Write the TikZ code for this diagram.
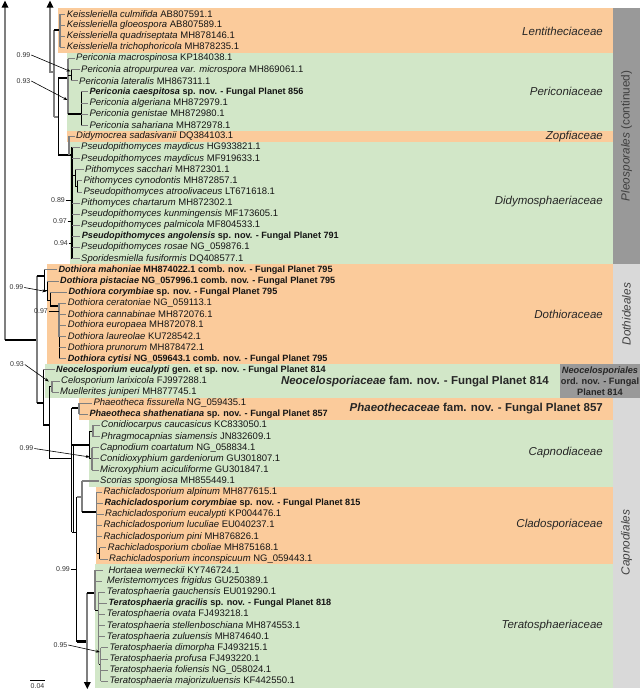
\documentclass[tikz,border=0pt]{standalone}
\usepackage{fontspec}
\setmainfont{Liberation Sans}
\usetikzlibrary{arrows.meta}
\definecolor{orf}{HTML}{FBCB9B}
\definecolor{grf}{HTML}{D2E7C8}
\definecolor{dgr}{HTML}{999999}
\definecolor{lgr}{HTML}{D9D9D9}
\definecolor{brg}{HTML}{7F7F7F}
\begin{document}
\begin{tikzpicture}[x=1pt,y=-1pt,
 tip/.style={anchor=west,inner sep=0pt,font=\fontsize{9.5}{11}\selectfont,text=black!92},
 btip/.style={anchor=west,inner sep=0pt,font=\fontsize{9.1}{11}\selectfont\bfseries,text=black!92},
 fam/.style={anchor=east,inner sep=0pt,font=\fontsize{11.5}{13}\selectfont\itshape,text=black!85},
 bfam/.style={anchor=east,inner sep=0pt,font=\fontsize{11.5}{13}\selectfont\bfseries,text=black!85},
 side/.style={rotate=90,inner sep=0pt,font=\fontsize{11.8}{13}\selectfont,text=black!75},
 supp/.style={anchor=east,inner sep=0pt,font=\fontsize{7}{8}\selectfont,text=black!80},
 bb/.style={draw=black,line width=1pt},
 tb/.style={draw=black,line width=2.6pt},
 gb/.style={draw=brg,line width=1.8pt},
 gl/.style={draw=brg,line width=1.2pt},
 tk/.style={draw=brg,line width=0.8pt},
 lead/.style={draw=black,line width=0.6pt,-{Stealth[length=4pt,width=3pt]}},
 plead/.style={draw=black,line width=0.6pt}]
\useasboundingbox (0,0) rectangle (640,691);
% ---------- coloured panels ----------
\fill[orf] (58,7.5) rectangle (613,53);
\fill[grf] (67,53) rectangle (613,130.75);
\fill[orf] (67,130.75) rectangle (613,141.9);
\fill[grf] (69.5,141.9) rectangle (613,264.2);
\fill[orf] (47,264.2) rectangle (613,364.3);
\fill[grf] (45,364.3) rectangle (560,397.65);
\fill[orf] (79,397.65) rectangle (613,419.85);
\fill[grf] (89,419.85) rectangle (613,486.6);
\fill[orf] (96,486.6) rectangle (613,564.4);
\fill[grf] (95,564.4) rectangle (613,687.5);
\fill[dgr] (613,7.5) rectangle (640,264.2);
\fill[lgr] (613,264.2) rectangle (640,364.3);
\fill[dgr] (560,364.3) rectangle (640,397.65);
\fill[lgr] (613,397.65) rectangle (640,687.5);
% ---------- group labels ----------
\node[fam] (fLen) at (603,31) {Lentitheciaceae};
\node[fam] (fPer) at (603,91.7) {Periconiaceae};
\node[fam] (fZop) at (603,136.3) {Zopfiaceae};
\node[fam] (fDid) at (603,202) {Didymosphaeriaceae};
\node[fam] (fDot) at (603,314) {Dothioraceae};
\node[bfam] (fNeo) at (549,381.5) {\textit{Neocelosporiaceae} fam. nov. - Fungal Planet 814};
\node[bfam] (fPha) at (603,408.5) {\textit{Phaeothecaceae} fam. nov. - Fungal Planet 857};
\node[fam] (fCap) at (603,453) {Capnodiaceae};
\node[fam] (fCla) at (603,525) {Cladosporiaceae};
\node[fam] (fTer) at (603,626) {Teratosphaeriaceae};
\node[side] (oPle) at (626.5,135.8) {\textit{Pleosporales} (continued)};
\node[side] (oDot) at (626.5,314.2) {\textit{Dothideales}};
\node[side] (oCap) at (626.5,542.6) {\textit{Capnodiales}};
\node[align=center,inner sep=0pt,font=\fontsize{9.2}{11.2}\selectfont\bfseries,text=black!85] (oNeo) at (600,381.2) {\textit{Neocelosporiales}\\ord. nov. - Fungal\\Planet 814};
% ---------- tip labels ----------
\node[tip] (t1) at (66.7,14.0) {\textit{Keissleriella culmifida} AB807591.1};
\node[tip] (t2) at (66.7,25.1) {\textit{Keissleriella gloeospora} AB807589.1};
\node[tip] (t3) at (66.7,36.2) {\textit{Keissleriella quadriseptata} MH878146.1};
\node[tip] (t4) at (66.7,47.4) {\textit{Keissleriella trichophoricola} MH878235.1};
\node[tip] (t5) at (76,58.5) {\textit{Periconia macrospinosa} KP184038.1};
\node[tip] (t6) at (81,69.6) {\textit{Periconia atropurpurea var. microspora} MH869061.1};
\node[tip] (t7) at (79,80.7) {\textit{Periconia lateralis} MH867311.1};
\node[btip] (t8) at (89.3,91.8) {\textit{Periconia caespitosa} sp. nov. - Fungal Planet 856};
\node[tip] (t9) at (89.3,103.0) {\textit{Periconia algeriana} MH872979.1};
\node[tip] (t10) at (89.3,114.1) {\textit{Periconia genistae} MH872980.1};
\node[tip] (t11) at (89.3,125.2) {\textit{Periconia sahariana} MH872978.1};
\node[tip] (t12) at (76,136.3) {\textit{Didymocrea sadasivanii} DQ384103.1};
\node[tip] (t13) at (81,147.4) {\textit{Pseudopithomyces maydicus} HG933821.1};
\node[tip] (t14) at (81,158.6) {\textit{Pseudopithomyces maydicus} MF919633.1};
\node[tip] (t15) at (85,169.7) {\textit{Pithomyces sacchari} MH872301.1};
\node[tip] (t16) at (83.3,180.8) {\textit{Pithomyces cynodontis} MH872857.1};
\node[tip] (t17) at (83.3,191.9) {\textit{Pseudopithomyces atroolivaceus} LT671618.1};
\node[tip] (t18) at (81,203.0) {\textit{Pithomyces chartarum} MH872302.1};
\node[tip] (t19) at (81,214.2) {\textit{Pseudopithomyces kunmingensis} MF173605.1};
\node[tip] (t20) at (81,225.3) {\textit{Pseudopithomyces palmicola} MF804533.1};
\node[btip] (t21) at (81.7,236.4) {\textit{Pseudopithomyces angolensis} sp. nov. - Fungal Planet 791};
\node[tip] (t22) at (81,247.5) {\textit{Pseudopithomyces rosae} NG\_059876.1};
\node[tip] (t23) at (81,258.6) {\textit{Sporidesmiella fusiformis} DQ408577.1};
\node[btip] (t24) at (58.3,269.8) {\textit{Dothiora mahoniae} MH874022.1 comb. nov. - Fungal Planet 795};
\node[btip] (t25) at (60,280.9) {\textit{Dothiora pistaciae} NG\_057996.1 comb. nov. - Fungal Planet 795};
\node[btip] (t26) at (68.3,292.0) {\textit{Dothiora corymbiae} sp. nov. - Fungal Planet 795};
\node[tip] (t27) at (67.7,303.1) {\textit{Dothiora ceratoniae} NG\_059113.1};
\node[tip] (t28) at (67.7,314.2) {\textit{Dothiora cannabinae} MH872076.1};
\node[tip] (t29) at (67.7,325.4) {\textit{Dothiora europaea} MH872078.1};
\node[tip] (t30) at (67.7,336.5) {\textit{Dothiora laureolae} KU728542.1};
\node[tip] (t31) at (67.7,347.6) {\textit{Dothiora prunorum} MH878472.1};
\node[btip] (t32) at (67.7,358.7) {\textit{Dothiora cytisi} NG\_059643.1 comb. nov. - Fungal Planet 795};
\node[btip] (t33) at (56,369.8) {\textit{Neocelosporium eucalypti} gen. et sp. nov. - Fungal Planet 814};
\node[tip] (t34) at (61,381.0) {\textit{Celosporium larixicola} FJ997288.1};
\node[tip] (t35) at (60,392.1) {\textit{Muellerites juniperi} MH877745.1};
\node[tip] (t36) at (93.3,403.2) {\textit{Phaeotheca fissurella} NG\_059435.1};
\node[btip] (t37) at (89.3,414.3) {\textit{Phaeotheca shathenatiana} sp. nov. - Fungal Planet 857};
\node[tip] (t38) at (101,425.4) {\textit{Conidiocarpus caucasicus} KC833050.1};
\node[tip] (t39) at (101,436.6) {\textit{Phragmocapnias siamensis} JN832609.1};
\node[tip] (t40) at (100,447.7) {\textit{Capnodium coartatum} NG\_058834.1};
\node[tip] (t41) at (100,458.8) {\textit{Conidioxyphium gardeniorum} GU301807.1};
\node[tip] (t42) at (100,469.9) {\textit{Microxyphium aciculiforme} GU301847.1};
\node[tip] (t43) at (100,481.0) {\textit{Scorias spongiosa} MH855449.1};
\node[tip] (t44) at (103.3,492.2) {\textit{Rachicladosporium alpinum} MH877615.1};
\node[btip] (t45) at (104.3,503.3) {\textit{Rachicladosporium corymbiae} sp. nov. - Fungal Planet 815};
\node[tip] (t46) at (105,514.4) {\textit{Rachicladosporium eucalypti} KP004476.1};
\node[tip] (t47) at (103.3,525.5) {\textit{Rachicladosporium luculiae} EU040237.1};
\node[tip] (t48) at (103.3,536.6) {\textit{Rachicladosporium pini} MH876826.1};
\node[tip] (t49) at (107.7,547.8) {\textit{Rachicladosporium cboliae} MH875168.1};
\node[tip] (t50) at (109,558.9) {\textit{Rachicladosporium inconspicuum} NG\_059443.1};
\node[tip] (t51) at (108.3,570.0) {\textit{Hortaea werneckii} KY746724.1};
\node[tip] (t52) at (106.7,581.1) {\textit{Meristemomyces frigidus} GU250389.1};
\node[tip] (t53) at (106.7,592.2) {\textit{Teratosphaeria gauchensis} EU019290.1};
\node[btip] (t54) at (108.3,603.4) {\textit{Teratosphaeria gracilis} sp. nov. - Fungal Planet 818};
\node[tip] (t55) at (106.7,614.5) {\textit{Teratosphaeria ovata} FJ493218.1};
\node[tip] (t56) at (106.7,625.6) {\textit{Teratosphaeria stellenboschiana} MH874553.1};
\node[tip] (t57) at (106.7,636.7) {\textit{Teratosphaeria zuluensis} MH874640.1};
\node[tip] (t58) at (109.3,647.8) {\textit{Teratosphaeria dimorpha} FJ493215.1};
\node[tip] (t59) at (109.3,659.0) {\textit{Teratosphaeria profusa} FJ493220.1};
\node[tip] (t60) at (109.3,670.1) {\textit{Teratosphaeria foliensis} NG\_058024.1};
\node[tip] (t61) at (109.3,681.2) {\textit{Teratosphaeria majorizuluensis} KF442550.1};
% ---------- tree: Pleosporales ----------
\draw[gb] (5,6) -- (5,340);
\fill (5,0.5) -- (1.5,7.5) -- (8.5,7.5) -- cycle;
\draw[tb] (5,340) -- (36.7,340);
\draw[gb] (50,6) -- (50,72) -- (54.3,72);
\fill (50,0.5) -- (46.5,7.5) -- (53.5,7.5) -- cycle;
\draw[gb] (54.3,30) -- (54.3,117);
\draw[tb] (54.3,30) -- (60,30);
\draw[gl] (60,14) -- (60,47.4);
\foreach \i in {1,2,3,4} \draw[tk] (60,0 |- t\i.west) -- ([xshift=-1.5pt]t\i.west);
\draw[gb] (54.3,117) -- (58.3,117);
\draw[bb] (58.3,78) -- (58.3,155);
\draw[tb] (58.3,78) -- (68,78);
\draw[gl] (68,58.5) -- (68,114);
\draw[tk] (68,58.5) -- ([xshift=-1.5pt]t5.west);
\draw[bb] (68,75) -- (71,75);
\draw[bb] (71,69.6) -- (71,80.7);
\draw[tk] (71,69.6) -- ([xshift=-1.5pt]t6.west);
\draw[tk] (71,80.7) -- ([xshift=-1.5pt]t7.west);
\draw[tb] (68,114) -- (81,114);
\draw[bb] (81,91.8) -- (81,125.2);
\foreach \i in {8,9,10,11} \draw[tk] (81,0 |- t\i.west) -- ([xshift=-1.5pt]t\i.west);
\draw[tb] (58.3,155) -- (72,155);
\draw[gl] (69,136.3) -- (69,155);
\draw[tk] (69,136.3) -- ([xshift=-1.5pt]t12.west);
\draw[draw=black,line width=1.6pt] (72,147.4) -- (72,258.6);
\foreach \i in {13,14,18,19,20,21,22,23} \draw[tk] (72,0 |- t\i.west) -- ([xshift=-1.5pt]t\i.west);
\draw[bb] (72,175) -- (75,175);
\draw[bb] (75,169.7) -- (75,186.4);
\draw[tk] (75,169.7) -- ([xshift=-1.5pt]t15.west);
\draw[bb] (75,186.4) -- (77,186.4);
\draw[bb] (77,180.8) -- (77,191.9);
\foreach \i in {16,17} \draw[tk] (77,0 |- t\i.west) -- ([xshift=-1.5pt]t\i.west);
% ---------- tree: Dothideales ----------
\draw[gb] (36.7,276) -- (36.7,403);
\draw[tb] (36.7,276) -- (44,276);
\draw[bb] (44,269.8) -- (44,290);
\draw[tk] (44,269.8) -- ([xshift=-1.5pt]t24.west);
\draw[bb] (44,290) -- (47,290);
\draw[bb] (47,280.9) -- (47,300);
\draw[tk] (47,280.9) -- ([xshift=-1.5pt]t25.west);
\draw[bb] (47,300) -- (50,300);
\draw[bb] (50,292) -- (50,306);
\draw[tk] (50,292) -- ([xshift=-1.5pt]t26.west);
\draw[tb] (50,306) -- (59.3,306);
\draw[gb] (59.3,303.1) -- (59.3,336.5);
\draw[bb] (59.3,336.5) -- (59.3,358.7);
\foreach \i in {27,28,29,30,31,32} \draw[tk] (59.3,0 |- t\i.west) -- ([xshift=-1.5pt]t\i.west);
% ---------- tree: Neocelosporiales / Capnodiales ----------
\draw[tb] (36.7,403) -- (43.3,403);
\draw[bb] (43.3,369.8) -- (43.3,425);
\draw[tk] (43.3,369.8) -- ([xshift=-1.5pt]t33.west);
\draw[tb] (43.3,425) -- (49.3,425);
\draw[bb] (49.3,386.5) -- (49.3,458);
\draw[bb] (49.3,386.5) -- (52,386.5);
\draw[gl] (52,381) -- (52,392.1);
\foreach \i in {34,35} \draw[tk] (52,0 |- t\i.west) -- ([xshift=-1.5pt]t\i.west);
\draw[bb] (49.3,458) -- (71.7,458);
\draw[bb] (71.7,408) -- (71.7,532);
\draw[draw=black,line width=0.6pt] (73.5,445) -- (73.5,532);
\draw[tb] (71.7,408) -- (79,408);
\draw[gl] (79,403.2) -- (79,414.3);
\foreach \i in {36,37} \draw[tk] (79,0 |- t\i.west) -- ([xshift=-1.5pt]t\i.west);
\draw[tb] (71.7,445) -- (89.3,445);
\draw[bb] (89.3,431) -- (89.3,458.8);
\draw[bb] (89.3,431) -- (93,431);
\draw[gl] (93,425.4) -- (93,436.6);
\foreach \i in {38,39} \draw[tk] (93,0 |- t\i.west) -- ([xshift=-1.5pt]t\i.west);
\draw[bb] (89.3,458.8) -- (92,458.8);
\draw[gl] (92,447.7) -- (92,469.9);
\foreach \i in {40,41,42} \draw[tk] (92,0 |- t\i.west) -- ([xshift=-1.5pt]t\i.west);
\draw[bb] (71.7,532) -- (76.7,532);
\draw[bb] (76.7,497) -- (76.7,641.7);
\draw[gb] (76.7,497) -- (81.7,497);
\draw[gb] (81.7,481) -- (81.7,512);
\draw[gl] (81.7,481) -- ([xshift=-1.5pt]t43.west);
\draw[tb] (81.7,512) -- (96.7,512);
\draw[gl] (96.7,492.2) -- (96.7,553.3);
\foreach \i in {44,45,46,47,48} \draw[tk] (96.7,0 |- t\i.west) -- ([xshift=-1.5pt]t\i.west);
\draw[bb] (96.7,553.3) -- (99.5,553.3);
\draw[bb] (99.5,547.8) -- (99.5,558.9);
\foreach \i in {49,50} \draw[tk] (99.5,0 |- t\i.west) -- ([xshift=-1.5pt]t\i.west);
\draw[tb] (76.7,641.7) -- (87.3,641.7);
\draw[gb] (87.3,593) -- (87.3,682);
\fill (87.3,689) -- (83.8,682) -- (90.8,682) -- cycle;
\draw[tb] (87.3,593) -- (95,593);
\draw[gl] (95,570) -- (95,610);
\foreach \i in {51,52} \draw[tk] (95,0 |- t\i.west) -- ([xshift=-5pt]t\i.west);
\draw[bb] (95,610) -- (98.7,610);
\draw[gl] (98.7,592.2) -- (98.7,664);
\foreach \i in {53,54,55,56,57} \draw[tk] (98.7,0 |- t\i.west) -- ([xshift=-1.5pt]t\i.west);
\draw[bb] (98.7,664) -- (100.5,664);
\draw[gl] (100.5,647.8) -- (100.5,681.2);
\foreach \i in {58,59,60,61} \draw[tk] (100.5,0 |- t\i.west) -- ([xshift=-1.5pt]t\i.west);
% ---------- support values ----------
\node[supp] (s1) at (30.5,55) {0.99};
\node[supp] (s2) at (30.5,81) {0.93};
\node[supp] (s3) at (65,200) {0.89};
\node[supp] (s4) at (67,221.5) {0.97};
\node[supp] (s5) at (68,243) {0.94};
\node[supp] (s6) at (23.5,287.5) {0.99};
\node[supp] (s7) at (48,311) {0.97};
\node[supp] (s8) at (24,364.5) {0.93};
\node[supp] (s9) at (33.5,448.5) {0.99};
\node[supp] (s10) at (70,569.5) {0.99};
\node[supp] (s11) at (67.5,645) {0.95};
\coordinate (a1) at (70.5,71.5);
\coordinate (a2) at (67.5,100);
\coordinate (a6) at (46.3,291.5);
\coordinate (a8) at (48.8,381.5);
\coordinate (a9) at (89.8,457);
\coordinate (a11) at (99.8,652);
\draw[lead] ([xshift=0.8pt]s1.east) -- (a1);
\draw[lead] ([xshift=0.8pt]s2.east) -- (a2);
\draw[lead] ([xshift=0.8pt]s6.east) -- (a6);
\draw[lead] ([xshift=0.8pt]s8.east) -- (a8);
\draw[lead] ([xshift=0.8pt]s9.east) -- (a9);
\draw[lead] ([xshift=0.8pt]s11.east) -- (a11);
\draw[plead] ([xshift=0.5pt]s3.east) -- (72,0 |- s3.east);
\draw[plead] ([xshift=0.5pt]s4.east) -- (72,0 |- s4.east);
\draw[plead] ([xshift=0.5pt]s5.east) -- (72,0 |- s5.east);
\draw[plead] ([xshift=0.5pt]s7.east) -- (59.3,0 |- s7.east);
\draw[plead] ([xshift=0.5pt]s10.east) -- (76.7,0 |- s10.east);
% ---------- scale bar ----------
\coordinate (sbL) at (30,680.5);
\coordinate (sbR) at (45,680.5);
\draw[draw=black,line width=0.7pt] (sbL) -- (sbR);
\node[inner sep=0pt,font=\fontsize{7}{8}\selectfont,text=black!80] (sb) at (37.5,686.3) {0.04};
\end{tikzpicture}
\end{document}
